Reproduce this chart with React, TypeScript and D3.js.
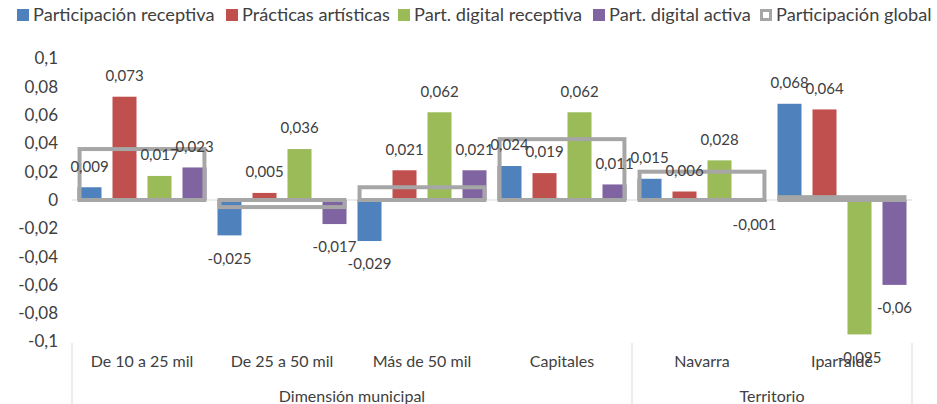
import React, { useRef, useEffect } from "react";
import * as d3 from "d3";

const categories = ["De 10 a 25 mil", "De 25 a 50 mil", "Más de 50 mil", "Capitales", "Navarra", "Iparralde"];
const groups = [
  { name: "Dimensión municipal", from: 0, to: 3 },
  { name: "Territorio", from: 4, to: 5 },
];
const seriesNames = ["Participación receptiva", "Prácticas artísticas", "Part. digital receptiva", "Part. digital activa"];
const receptiva = [0.009, -0.025, -0.029, 0.024, 0.015, 0.068];
const artisticas = [0.073, 0.005, 0.021, 0.019, 0.006, 0.064];
const digitalReceptiva = [0.017, 0.036, 0.062, 0.062, 0.028, -0.095];
const digitalActiva = [0.023, -0.017, 0.021, 0.011, -0.001, -0.06];
const globalName = "Participación global";
const global = [0.036, -0.005, 0.009, 0.043, 0.02, 0.002];
const yTicks = [0.1, 0.08, 0.06, 0.04, 0.02, 0, -0.02, -0.04, -0.06, -0.08, -0.1];

const colors = ["#4F81BD", "#C0504D", "#9BBB59", "#8064A2"];
const grayStroke = "#A6A6A6";
const FONT = "Lato, 'Open Sans', sans-serif";
// legend swatch positions (layout)
const legendX = [17, 226, 398, 593, 760];

const fmt = (v: number) => String(v).replace(".", ",");

const Chart = () => {
  const ref = useRef<SVGSVGElement>(null);

  useEffect(() => {
    document.body.style.margin = "0";
    const svg = d3.select(ref.current);
    svg.selectAll("*").remove();
    svg.attr("width", 937).attr("height", 404).style("display", "block").style("background", "#fff");

    const values = [receptiva, artisticas, digitalReceptiva, digitalActiva];

    const x0 = d3.scaleBand().domain(categories).range([72, 912]).padding(0);
    const x1 = d3
      .scaleBand()
      .domain(seriesNames)
      .range([0, x0.bandwidth()])
      .paddingInner(0.314)
      .paddingOuter(0.157);
    const y = d3.scaleLinear().domain([-0.1, 0.1]).range([341.5, 58.5]);

    // y axis labels
    svg
      .append("g")
      .selectAll("text")
      .data(yTicks)
      .enter()
      .append("text")
      .attr("x", 58)
      .attr("y", (d) => y(d))
      .attr("dy", "0.35em")
      .attr("text-anchor", "end")
      .style("font-family", FONT)
      .style("font-size", "17px")
      .style("fill", "#404040")
      .text((d) => fmt(d));

    // zero line
    svg
      .append("line")
      .attr("x1", 72)
      .attr("x2", 912)
      .attr("y1", y(0))
      .attr("y2", y(0))
      .style("stroke", "#D9D9D9")
      .style("stroke-width", 1);

    // bars
    values.forEach((vals, si) => {
      const g = svg.append("g");
      g.selectAll("rect")
        .data(vals)
        .enter()
        .append("rect")
        .attr("x", (d, i) => x0(categories[i])! + x1(seriesNames[si])!)
        .attr("y", (d) => y(Math.max(0, d)))
        .attr("width", x1.bandwidth())
        .attr("height", (d) => Math.abs(y(d) - y(0)))
        .style("fill", colors[si]);
    });

    // global outline boxes
    const inset = x0.bandwidth() * 0.054;
    svg
      .append("g")
      .selectAll("rect")
      .data(global)
      .enter()
      .append("rect")
      .attr("x", (d, i) => x0(categories[i])! + inset)
      .attr("y", (d) => y(Math.max(0, d)))
      .attr("width", x0.bandwidth() - inset * 2)
      .attr("height", (d) => Math.abs(y(d) - y(0)))
      .style("fill", "none")
      .style("stroke", grayStroke)
      .style("stroke-width", 4);

    // data labels
    values.forEach((vals, si) => {
      svg
        .append("g")
        .selectAll("text")
        .data(vals)
        .enter()
        .append("text")
        .attr("x", (d, i) => x0(categories[i])! + x1(seriesNames[si])! + x1.bandwidth() / 2)
        .attr("y", (d) => (d >= 0 ? y(d) - 21 : y(d) + 23))
        .attr("dy", "0.35em")
        .attr("text-anchor", "middle")
        .style("font-family", FONT)
        .style("font-size", "15px")
        .style("fill", "#404040")
        .text((d) => fmt(d));
    });

    // category axis
    const axisTop = 343;
    const bounds = [72, x0(categories[4])!, 912];
    svg
      .append("g")
      .selectAll("line")
      .data(bounds)
      .enter()
      .append("line")
      .attr("x1", (d) => d)
      .attr("x2", (d) => d)
      .attr("y1", axisTop)
      .attr("y2", 404)
      .style("stroke", "#D9D9D9")
      .style("stroke-width", 1);

    svg
      .append("g")
      .selectAll("text")
      .data(categories)
      .enter()
      .append("text")
      .attr("x", (d) => x0(d)! + x0.bandwidth() / 2)
      .attr("y", 361)
      .attr("dy", "0.35em")
      .attr("text-anchor", "middle")
      .style("font-family", FONT)
      .style("font-size", "16px")
      .style("fill", "#404040")
      .text((d) => d);

    svg
      .append("g")
      .selectAll("text")
      .data(groups)
      .enter()
      .append("text")
      .attr("x", (d) => (x0(categories[d.from])! + x0(categories[d.to])! + x0.bandwidth()) / 2)
      .attr("y", 396)
      .attr("dy", "0.35em")
      .attr("text-anchor", "middle")
      .style("font-family", FONT)
      .style("font-size", "16px")
      .style("fill", "#404040")
      .text((d) => d.name);

    // legend
    const legend = svg.append("g");
    const items = [
      ...seriesNames.map((n, i) => ({ name: n, fill: colors[i], stroke: "none" })),
      { name: globalName, fill: "#fff", stroke: grayStroke },
    ];
    items.forEach((it, i) => {
      const lx = legendX[i];
      legend
        .append("rect")
        .attr("x", it.stroke === "none" ? lx : lx + 1.5)
        .attr("y", it.stroke === "none" ? 9 : 10.5)
        .attr("width", it.stroke === "none" ? 12 : 9)
        .attr("height", it.stroke === "none" ? 12 : 9)
        .style("fill", it.fill)
        .style("stroke", it.stroke)
        .style("stroke-width", 3);
      legend
        .append("text")
        .attr("x", lx + 16)
        .attr("y", 15)
        .attr("dy", "0.35em")
        .style("font-family", FONT)
        .style("font-size", "18.2px")
        .style("fill", "#404040")
        .text(it.name);
    });
  }, []);

  return <svg ref={ref}></svg>;
};

export default function App() {
  return <Chart />;
}
